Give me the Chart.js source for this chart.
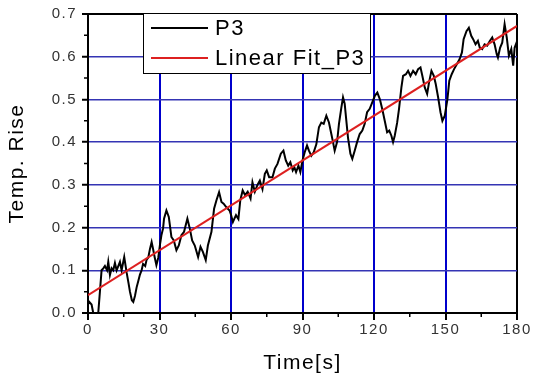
<!DOCTYPE html>
<html>
<head>
<meta charset="utf-8">
<script src="https://cdn.jsdelivr.net/npm/chart.js@4.4.1/dist/chart.umd.min.js"></script>
<style>
  body { margin: 0; background: #fff; }
  #wrap { width: 533px; height: 380px; }
</style>
</head>
<body>
<div id="wrap"><canvas id="chart" width="533" height="380"></canvas></div>
<script>
// time axis (s) and P3 temperature rise
var time = [0, 0.5, 1.5, 2.2, 3, 4.3, 5, 5.7, 6.5, 7.1, 8, 8.5, 9.2, 9.9, 10.6, 11.3, 12, 12.7, 13.4, 14.1,
  15.2, 16.2, 17, 17.6, 18.4, 19, 19.7, 20.4, 21.1, 21.8, 22.5, 23.1, 24, 24.6, 25.3, 26, 26.7, 27.3, 28, 28.7,
  29.5, 30.2, 30.8, 31.5, 31.9, 32.9, 33.9, 35, 36, 37.1, 38.1, 39.2, 40.3, 41.7, 42.7, 43.7, 44.8, 46.2, 47.2, 48.2,
  49.4, 50.3, 51.8, 52.9, 53.9, 55, 56, 56.9, 58, 59.4, 60, 60.8, 62.1, 63.1, 63.9, 64.9, 65.9, 67, 68.2, 69,
  70, 71.1, 72.1, 73.2, 74.2, 75, 76, 77.4, 78.4, 79.5, 80.9, 82, 83, 84, 84.9, 85.9, 86.6, 87.3, 88.3, 89.1,
  90, 90.9, 91.9, 92.7, 93.7, 94.7, 95.8, 96.9, 97.9, 98.9, 100, 101.1, 102.1, 102.8, 103.5, 104.5, 105.3, 106.3, 107, 107.7,
  108.4, 109.1, 110.1, 110.9, 111.9, 112.9, 114, 115.1, 116.1, 117.1, 118.2, 119.4, 120.4, 121.4, 122.5, 123.6, 124.5, 125.5, 126.4, 127.3,
  128, 128.7, 129.7, 130.5, 131.5, 132.2, 133.4, 134.3, 135.3, 136.4, 137.5, 138.5, 139.5, 140.3, 141.3, 142.3, 143.1, 144.1, 145.1, 145.9,
  146.9, 147.9, 148.7, 149.7, 150.8, 151.6, 152.6, 153.6, 154.8, 155.9, 156.9, 157.6, 158.8, 159.8, 160.8, 161.6, 162.6, 163.6, 164.4, 165.4,
  166.4, 167.5, 168.6, 169.6, 170.6, 171.5, 172, 172.9, 173.8, 174.8, 175.7, 176.6, 177.6, 178.4, 179, 179.8, 180];
var p3 = [0.02, 0.026, 0.02, 0.0, 0.0, 0.0, 0.05, 0.1, 0.105, 0.11, 0.1, 0.12, 0.089, 0.105, 0.1, 0.117, 0.1, 0.11, 0.12, 0.1,
  0.131, 0.095, 0.07, 0.05, 0.03, 0.026, 0.04, 0.06, 0.075, 0.09, 0.1, 0.115, 0.11, 0.125, 0.13, 0.15, 0.166, 0.15, 0.13, 0.112,
  0.13, 0.16, 0.182, 0.198, 0.221, 0.24, 0.225, 0.178, 0.17, 0.147, 0.158, 0.182, 0.19, 0.221, 0.198, 0.17, 0.158, 0.131, 0.155, 0.143,
  0.124, 0.158, 0.19, 0.244, 0.264, 0.283, 0.26, 0.256, 0.248, 0.24, 0.23, 0.213, 0.229, 0.22, 0.264, 0.287, 0.276, 0.284, 0.268, 0.306,
  0.284, 0.3, 0.31, 0.29, 0.326, 0.334, 0.318, 0.318, 0.338, 0.349, 0.373, 0.38, 0.357, 0.345, 0.353, 0.334, 0.341, 0.33, 0.345, 0.33,
  0.357, 0.376, 0.392, 0.38, 0.368, 0.376, 0.395, 0.435, 0.446, 0.443, 0.462, 0.446, 0.419, 0.4, 0.38, 0.4, 0.443, 0.481, 0.505, 0.49,
  0.45, 0.41, 0.373, 0.361, 0.38, 0.4, 0.419, 0.427, 0.443, 0.47, 0.478, 0.495, 0.509, 0.516, 0.5, 0.474, 0.45, 0.423, 0.427, 0.415,
  0.4, 0.415, 0.445, 0.478, 0.528, 0.555, 0.559, 0.567, 0.555, 0.567, 0.559, 0.571, 0.575, 0.555, 0.528, 0.513, 0.54, 0.567, 0.555, 0.536,
  0.505, 0.47, 0.45, 0.462, 0.5, 0.544, 0.559, 0.571, 0.583, 0.594, 0.61, 0.641, 0.66, 0.668, 0.649, 0.641, 0.629, 0.637, 0.621, 0.618,
  0.629, 0.626, 0.637, 0.645, 0.629, 0.606, 0.598, 0.621, 0.633, 0.676, 0.645, 0.602, 0.618, 0.579, 0.621, 0.633, 0.62];

// linear fit end points
var fitTime = [0, 180];
var fitP3 = [0.042, 0.672];

var labels = ['P3', 'Linear Fit_P3'];

function toPoints(xs, ys) {
  return xs.map(function (x, i) { return { x: x, y: ys[i] }; });
}

var FONT = '"Liberation Sans", Arial, sans-serif';

// Origin-like spaced text
var spacing = {
  id: 'spacing',
  beforeDraw: function (chart) { chart.ctx.letterSpacing = '1.5px'; }
};

// short outward minor ticks
var minorTicks = {
  id: 'minorTicks',
  afterDraw: function (chart) {
    var ctx = chart.ctx, xs = chart.scales.x, ys = chart.scales.y, a = chart.chartArea;
    ctx.save();
    ctx.strokeStyle = '#000';
    ctx.lineWidth = 1.5;
    ctx.beginPath();
    for (var v = 15; v < 180; v += 30) {
      var px = xs.getPixelForValue(v);
      ctx.moveTo(px, a.bottom);
      ctx.lineTo(px, a.bottom + 4);
    }
    for (var k = 0; k < 7; k++) {
      var py = ys.getPixelForValue(k * 0.1 + 0.05);
      ctx.moveTo(a.left, py);
      ctx.lineTo(a.left - 4, py);
    }
    ctx.stroke();
    ctx.restore();
  }
};

// legend box inside the plot, top left
var boxLegend = {
  id: 'boxLegend',
  afterDraw: function (chart) {
    var ctx = chart.ctx;
    var x0 = 143, y0 = 13, w = 227, h = 60;
    ctx.save();
    ctx.fillStyle = '#fff';
    ctx.fillRect(x0, y0, w, h);
    ctx.strokeStyle = '#000';
    ctx.lineWidth = 1;
    ctx.strokeRect(x0 + 0.5, y0 + 0.5, w, h);
    ctx.font = '22px ' + FONT;
    ctx.letterSpacing = '1.5px';
    ctx.textBaseline = 'middle';
    ctx.textAlign = 'left';
    chart.data.datasets.forEach(function (ds, i) {
      var y = 28 + i * 30;
      ctx.strokeStyle = ds.borderColor;
      ctx.lineWidth = 2;
      ctx.beginPath();
      ctx.moveTo(151, y);
      ctx.lineTo(208, y);
      ctx.stroke();
      ctx.fillStyle = '#000';
      ctx.fillText(ds.label, 215, y + 1);
    });
    ctx.restore();
  }
};

function isVal(v, t) { return Math.abs(v - t) < 1e-6; }

new Chart(document.getElementById('chart'), {
  type: 'line',
  data: {
    datasets: [{
      label: labels[0],
      data: toPoints(time, p3),
      borderColor: '#000000',
      borderWidth: 2,
      pointRadius: 0,
      tension: 0,
      order: 1
    }, {
      label: labels[1],
      data: toPoints(fitTime, fitP3),
      borderColor: '#dd2020',
      borderWidth: 2,
      pointRadius: 0,
      order: 0
    }]
  },
  options: {
    responsive: false,
    animation: false,
    devicePixelRatio: 1,
    layout: { padding: { left: 0, top: 13, right: 16, bottom: 0 } },
    plugins: {
      legend: { display: false },
      tooltip: { enabled: false }
    },
    scales: {
      x: {
        type: 'linear',
        min: 0,
        max: 180,
        afterFit: function (s) { s.height = 67; },
        ticks: {
          stepSize: 30,
          padding: 1,
          color: '#333',
          font: { family: FONT, size: 15 },
          maxRotation: 0
        },
        grid: {
          color: function (c) {
            if (!c.tick) return '#0000cc';
            return (isVal(c.tick.value, 0) || isVal(c.tick.value, 180)) ? '#000' : '#0000cc';
          },
          lineWidth: 2,
          tickColor: '#000',
          tickLength: 7,
          tickWidth: 2
        },
        border: { color: '#000', width: 2 },
        title: {
          display: true,
          text: 'Time[s]',
          color: '#000',
          font: { family: FONT, size: 21, lineHeight: 1.2 },
          padding: { top: 0, bottom: 4 }
        }
      },
      y: {
        type: 'linear',
        min: 0,
        max: 0.7,
        afterFit: function (s) { s.width = 88; },
        ticks: {
          stepSize: 0.1,
          padding: 5,
          color: '#333',
          font: { family: FONT, size: 15 },
          callback: function (v) { return v.toFixed(1); }
        },
        grid: {
          color: function (c) {
            if (!c.tick) return '#3434b4';
            return (isVal(c.tick.value, 0) || isVal(c.tick.value, 0.7)) ? '#000' : '#3434b4';
          },
          lineWidth: function (c) {
            if (!c.tick) return 1.5;
            return (isVal(c.tick.value, 0) || isVal(c.tick.value, 0.7)) ? 2 : 1.5;
          },
          tickColor: '#000',
          tickLength: 6,
          tickWidth: 2
        },
        border: { color: '#000', width: 2 },
        title: {
          display: true,
          text: 'Temp. Rise',
          color: '#000',
          font: { family: FONT, size: 21, lineHeight: 1.2 },
          padding: { top: 5, bottom: 0 }
        }
      }
    }
  },
  plugins: [spacing, minorTicks, boxLegend]
});
</script>
</body>
</html>
